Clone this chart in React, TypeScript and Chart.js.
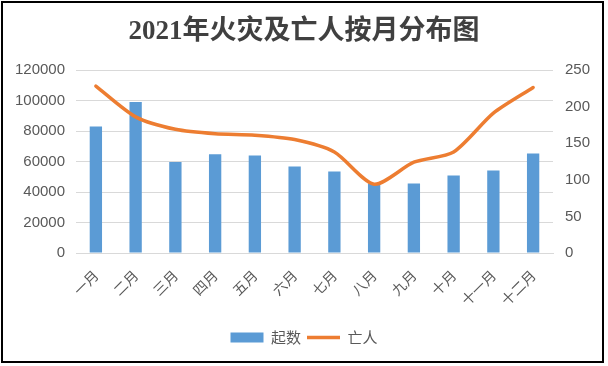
import React, { useEffect, useRef } from "react";
import { Chart, registerables } from "chart.js";

Chart.register(...registerables);

const titleText = "2021年火灾及亡人按月分布图";
const months = ["一月", "二月", "三月", "四月", "五月", "六月", "七月", "八月", "九月", "十月", "十一月", "十二月"];
const fireCounts = [83000, 99000, 59600, 64700, 64000, 56800, 53500, 45500, 45600, 50900, 54100, 65300];
const deaths = [228, 186, 169, 163, 161, 155, 138, 94, 124, 138, 191, 226];
const barLabel = "起数";
const lineLabel = "亡人";

const BLUE = "#5B9BD5";
const ORANGE = "#ED7D31";
const TEXT = "#595959";
const GRID = "#D9D9D9";

export default function App() {
  const ref = useRef<HTMLCanvasElement | null>(null);

  useEffect(() => {
    if (!ref.current) return;
    const chart = new Chart(ref.current, {
      type: "bar",
      data: {
        labels: months,
        datasets: [
          {
            type: "bar",
            label: barLabel,
            data: fireCounts,
            backgroundColor: BLUE,
            yAxisID: "y",
            categoryPercentage: 1,
            barPercentage: 0.31,
            order: 1,
          },
          {
            type: "line",
            label: lineLabel,
            data: deaths,
            borderColor: ORANGE,
            backgroundColor: ORANGE,
            borderWidth: 3.5,
            pointRadius: 0,
            tension: 0.25,
            yAxisID: "y1",
            order: 0,
            borderCapStyle: "round",
          } as any,
        ],
      },
      options: {
        responsive: false,
        animation: false,
        devicePixelRatio: 1,
        layout: { padding: { left: 0, right: 0, top: 0, bottom: 11 } },
        plugins: {
          title: {
            display: true,
            text: titleText,
            color: "#404040",
            font: { family: "'Liberation Serif', 'Noto Sans CJK SC'", size: 27, weight: "bold", lineHeight: 1.2 },
            padding: { top: 16, bottom: 21.6 },
          },
          legend: {
            position: "bottom",
            labels: {
              usePointStyle: true,
              pointStyleWidth: 33,
              boxHeight: 10,
              padding: 6,
              color: TEXT,
              font: { family: "'Noto Sans CJK SC'", size: 15 },
              generateLabels: (c: any) =>
                c.data.datasets.map((ds: any, i: number) => ({
                  text: ds.label,
                  fillStyle: ds.type === "line" ? ORANGE : BLUE,
                  strokeStyle: ds.type === "line" ? ORANGE : BLUE,
                  lineWidth: ds.type === "line" ? 3.5 : 0,
                  pointStyle: ds.type === "line" ? "line" : "rect",
                  fontColor: TEXT,
                  hidden: false,
                  datasetIndex: i,
                })),
            },
          },
          tooltip: { enabled: false },
        },
        scales: {
          x: {
            grid: { display: false },
            border: { display: true, color: GRID },
            ticks: {
              color: TEXT,
              font: { family: "'Noto Sans CJK SC'", size: 14 },
              maxRotation: 45,
              minRotation: 45,
              padding: 6,
            },
            afterFit: (s: any) => {
              s.height = 71;
            },
          },
          y: {
            position: "left",
            min: 0,
            max: 120000,
            ticks: {
              stepSize: 20000,
              color: TEXT,
              font: { family: "'Liberation Sans'", size: 15 },
              padding: 11,
              callback: (v: any) => String(v),
            },
            grid: { color: GRID, drawTicks: false, lineWidth: 1 },
            border: { display: false },
            afterFit: (s: any) => {
              s.width = 76;
            },
          },
          y1: {
            position: "right",
            min: 0,
            max: 250,
            ticks: {
              stepSize: 50,
              color: TEXT,
              font: { family: "'Liberation Sans'", size: 15 },
              padding: 12,
              callback: (v: any) => String(v),
            },
            grid: { drawOnChartArea: false, drawTicks: false },
            border: { display: false },
            afterFit: (s: any) => {
              s.width = 55;
            },
          },
        },
      },
    });
    return () => chart.destroy();
  }, []);

  return (
    <div style={{ position: "absolute", left: 0, top: 0, width: 608, height: 366, background: "#fff" }}>
      <canvas ref={ref} width={608} height={366} style={{ position: "absolute", left: 0, top: 0, width: 608, height: 366 }} />
      <div
        style={{
          position: "absolute",
          left: 1,
          top: 1,
          width: 603,
          height: 362,
          boxSizing: "border-box",
          border: "2px solid #000",
          pointerEvents: "none",
        }}
      />
    </div>
  );
}
